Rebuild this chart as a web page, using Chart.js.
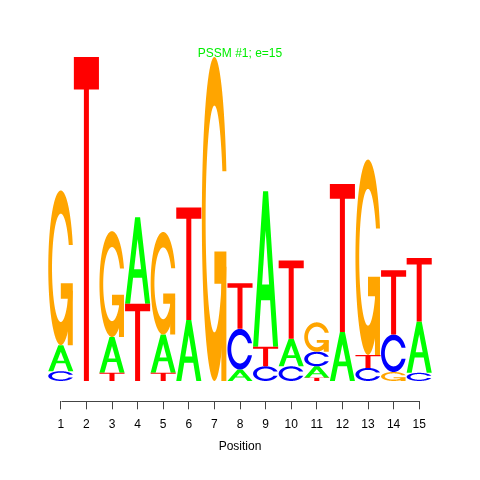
<!DOCTYPE html>
<html>
<head>
<meta charset="utf-8">
<script src="https://cdn.jsdelivr.net/npm/chart.js@4"></script>
<style>
  html, body { margin: 0; padding: 0; background: #fff; }
  canvas { display: block; }
</style>
</head>
<body>
<canvas id="logo" width="480" height="480"></canvas>
<script>
// information content (bits) of each base per position
const positions = ['1', '2', '3', '4', '5', '6', '7', '8', '9', '10', '11', '12', '13', '14', '15'];
const bitsA = [0.16, 0, 0.22, 0.53, 0.235, 0.375, 0, 0.07, 0.955, 0.17, 0.07, 0.30, 0, 0, 0.315];
const bitsC = [0.06, 0, 0, 0, 0, 0, 0, 0.25, 0.09, 0.09, 0.09, 0, 0.08, 0.23, 0.05];
const bitsG = [0.95, 0, 0.65, 0, 0.63, 0, 1.99, 0, 0, 0, 0.18, 0, 1.20, 0.055, 0];
const bitsT = [0, 1.99, 0.05, 0.475, 0.05, 0.69, 0, 0.28, 0.12, 0.48, 0.02, 0.91, 0.08, 0.395, 0.39];

const bases = ['A', 'C', 'G', 'T'];
const baseBits = { A: bitsA, C: bitsC, G: bitsG, T: bitsT };
const baseColors = { A: '#00ff00', C: '#0000ff', G: '#ffa500', T: '#ff0000' };

// stack letters smallest first, as a sequence logo does
function stackColumns() {
  const ranges = { A: [], C: [], G: [], T: [] };
  positions.forEach((p, i) => {
    const order = bases.slice().sort((a, b) => baseBits[a][i] - baseBits[b][i]);
    let y = 0;
    order.forEach(b => {
      const h = baseBits[b][i];
      ranges[b][i] = h > 0 ? [y, y + h] : null;
      y += h;
    });
  });
  return ranges;
}

// letter outlines in a unit box (x right, y up), seqLogo style
function arc(r, from, to, n) {
  const pts = [];
  for (let k = 0; k < n; k++) {
    const a = from + (to - from) * k / (n - 1);
    pts.push([0.5 + r * Math.sin(a), 0.5 + r * Math.cos(a)]);
  }
  return pts;
}

function cOutline() {
  const a0 = 0.3 + Math.PI / 2;
  const outer1 = arc(0.5, a0, Math.PI, 100);
  const outer = outer1.concat(arc(0.5, Math.PI, 1.5 * Math.PI, 100));
  const hMax = Math.max(...outer1.map(p => p[1]));
  const inner1 = arc(0.35, a0, Math.PI, 100).filter(p => p[1] <= hMax);
  inner1[0] = [inner1[0][0], hMax];
  const inner = inner1.concat(arc(0.35, Math.PI, 1.5 * Math.PI, 100));
  const mirror = pts => pts.slice().reverse().map(p => [p[0], 1 - p[1]]);
  const outerFull = outer.concat(mirror(outer));
  const innerFull = inner.concat(mirror(inner));
  return outerFull.concat(innerFull.slice().reverse());
}

const cShape = cOutline();
const r1 = 0.5 + 0.5 * Math.cos(0.3);
const glyphs = {
  A: [
    { fill: 'main', pts: [[0, 0], [0.4, 1], [0.6, 1], [1, 0], [0.8, 0], [0.68, 0.3], [0.32, 0.3], [0.2, 0]] },
    { fill: '#ffffff', pts: [[0.36, 0.4], [0.5, 0.75], [0.64, 0.4]] }
  ],
  C: [{ fill: 'main', pts: cShape }],
  G: [
    { fill: 'main', pts: cShape },
    { fill: 'main', pts: [[r1, 0.4], [0.5, 0.4], [0.5, 0.3], [r1 - 0.2, 0.3], [r1 - 0.2, 0], [r1, 0]] }
  ],
  T: [{ fill: 'main', pts: [[0, 1], [1, 1], [1, 0.9], [0.6, 0.9], [0.6, 0], [0.4, 0], [0.4, 0.9], [0, 0.9]] }]
};

const letterPlugin = {
  id: 'letters',
  afterDatasetsDraw(chart) {
    const ctx = chart.ctx;
    ctx.save();
    chart.data.datasets.forEach((ds, di) => {
      const meta = chart.getDatasetMeta(di);
      meta.data.forEach((bar, i) => {
        if (!ds.data[i]) return;
        const { x, y, base, width } = bar.getProps(['x', 'y', 'base', 'width'], true);
        const left = x - width / 2;
        const h = base - y;
        glyphs[ds.label].forEach(part => {
          ctx.beginPath();
          part.pts.forEach((p, k) => {
            const px = left + p[0] * width;
            const py = base - p[1] * h;
            if (k === 0) ctx.moveTo(px, py); else ctx.lineTo(px, py);
          });
          ctx.closePath();
          ctx.fillStyle = part.fill === 'main' ? baseColors[ds.label] : part.fill;
          ctx.fill();
        });
      });
    });
    ctx.restore();
  },
  afterDraw(chart) {
    // axis line only from first to last tick
    const xs = chart.scales.x;
    const ctx = chart.ctx;
    const yLine = Math.round(chart.chartArea.bottom) + 0.5;
    ctx.save();
    ctx.strokeStyle = '#444';
    ctx.lineWidth = 1;
    ctx.beginPath();
    ctx.moveTo(Math.round(xs.getPixelForValue(0)) + 0.5, yLine);
    ctx.lineTo(Math.round(xs.getPixelForValue(positions.length - 1)) + 0.5, yLine);
    ctx.stroke();
    ctx.restore();
  }
};

Chart.defaults.font.family = '"Liberation Sans", Arial, sans-serif';
Chart.defaults.font.size = 12;
Chart.defaults.color = '#000';

const ranges = stackColumns();
new Chart(document.getElementById('logo').getContext('2d'), {
  type: 'bar',
  data: {
    labels: positions,
    datasets: bases.map(b => ({
      label: b,
      data: ranges[b],
      backgroundColor: 'rgba(0,0,0,0)',
      borderWidth: 0,
      grouped: false,
      barPercentage: 0.98,
      categoryPercentage: 1
    }))
  },
  options: {
    responsive: false,
    animation: false,
    events: [],
    layout: { padding: { left: 48, right: 48, top: 46, bottom: 26 } },
    plugins: {
      legend: { display: false },
      tooltip: { enabled: false },
      title: {
        display: true,
        text: 'PSSM #1; e=15',
        color: '#00ee00',
        font: { size: 12, weight: 'normal' },
        padding: { top: 0, bottom: -5 }
      }
    },
    scales: {
      x: {
        offset: true,
        border: { display: false },
        grid: { display: true, offset: false, drawOnChartArea: false, drawTicks: true, tickLength: 8, color: '#444' },
        ticks: { color: '#000', padding: 8.5, maxRotation: 0, autoSkip: false },
        title: { display: true, text: 'Position', color: '#000', padding: { top: -1.1, bottom: 0 } }
      },
      y: {
        display: false,
        min: -0.125,
        max: 2
      }
    }
  },
  plugins: [letterPlugin]
});
</script>
</body>
</html>
